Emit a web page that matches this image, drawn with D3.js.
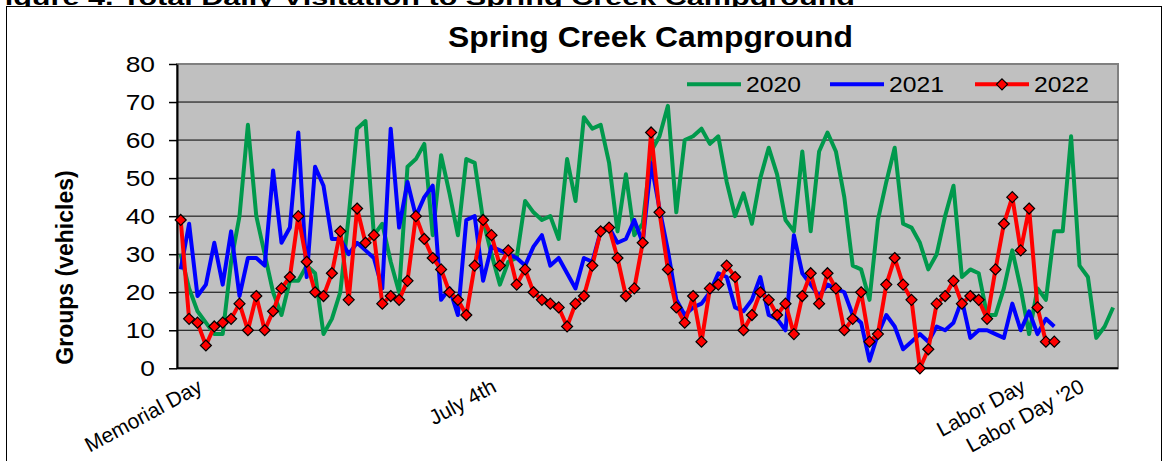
<!DOCTYPE html>
<html><head><meta charset="utf-8">
<script src="https://cdn.jsdelivr.net/npm/d3@7"></script>
<style>
body{margin:0;background:#fff;}
svg{display:block;}
text{font-family:Arial,"Liberation Sans",sans-serif;fill:#000;}
</style>
</head><body>
<svg id="c" width="1168" height="461"></svg>
<script>
// ---- data ----
const series2020 = [30,21,15,12,9,9,28,40,64,40,
  30,20,14,23,23,27,25,9,13,20,
  40,63,65,35,38,28,20,53,55,59,
  35,56,46,35,55,54,39,30,22,28,
  29,44,41,39,40,34,55,44,66,63,
  64,54,36,51,35,38,57,61,69,41,
  60,61,63,59,61,49,40,46,38,50,
  58,51,39,36,57,36,57,62,57,45,
  27,26,18,39,49,58,38,37,33,26,
  30,40,48,24,26,25,14,14,21,31,
  21,9,21,18,36,36,61,27,24,8,
  11,16];
const series2021 = [26,38,19,22,33,22,36,19,29,29,
  27,52,33,37,62,24,53,48,34,34,
  30,33,31,29,21,63,37,49,40,45,
  48,18,21,14,39,40,23,32,31,30,
  29,27,32,35,27,29,25,21,29,28,
  36,37,33,34,39,33,54,42,31,18,
  14,16,17,20,25,24,16,15,18,24,
  14,13,10,35,25,22,19,22,21,20,
  14,12,2,9,14,11,5,7,9,7,
  11,10,12,18,8,10,10,9,8,17,
  10,15,9,13,11];
const series2022 = [39,13,12,6,11,12,13,17,10,19,
  10,15,21,24,40,28,20,19,25,36,
  18,42,33,35,17,19,18,23,40,34,
  29,26,20,18,14,27,39,35,27,31,
  22,26,20,18,17,16,11,17,19,27,
  36,37,29,19,21,33,62,41,26,16,
  12,19,7,21,22,27,24,10,14,20,
  18,14,17,9,19,25,17,25,21,10,
  13,20,7,9,22,29,22,18,0,5,
  17,19,23,17,19,18,13,26,38,45,
  31,42,16,7,7];
const seriesNames = ["2020","2021","2022"];
const seriesColors = ["#00994C","#0000FF","#FF0000"];
const xTickDays = [0,35,98,105];
const xTickLabels = ["Memorial Day","July 4th","Labor Day","Labor Day '20"];
const yTickValues = [0,10,20,30,40,50,60,70,80];
const chartTitle = "Spring Creek Campground";
const yAxisTitle = "Groups (vehicles)";
const figureCaption = "Figure 4. Total Daily Visitation to Spring Creek Campground";

// ---- layout ----
const svg = d3.select("#c");
const P = {left:177, right:1118, top:64, bottom:368.3};
const x = d3.scaleLinear().domain([0, series2020.length-1]).range([180.7, 1113.1]);
const y = d3.scaleLinear().domain([0,80]).range([P.bottom, P.top]);

// caption (cut off at top)
svg.append("text").attr("x",-14).attr("y",5)
  .attr("font-size",22).attr("font-weight","bold")
  .attr("textLength",869).attr("lengthAdjust","spacingAndGlyphs")
  .text(figureCaption);

// outer frame
svg.append("rect").attr("x",6.5).attr("y",6.5).attr("width",1155).attr("height",480)
  .attr("fill","#fff").attr("stroke","#000").attr("stroke-width",1);

// plot area
svg.append("rect").attr("x",P.left).attr("y",P.top)
  .attr("width",P.right-P.left).attr("height",P.bottom-P.top)
  .attr("fill","#C0C0C0").attr("stroke","#808080").attr("stroke-width",2);

// gridlines
svg.append("g").selectAll("line").data(yTickValues.filter(v=>v>0 && v<80)).join("line")
  .attr("x1",P.left).attr("x2",P.right)
  .attr("y1",d=>y(d)).attr("y2",d=>y(d))
  .attr("stroke","#000").attr("stroke-width",1);

// y axis
const yAxis = svg.append("g").attr("transform",`translate(${P.left},0)`)
  .call(d3.axisLeft(y).tickValues(yTickValues).tickSize(8).tickPadding(14).tickSizeOuter(0));
yAxis.select(".domain").attr("stroke","#000").attr("stroke-width",2);
yAxis.selectAll(".tick line").attr("stroke","#000").attr("stroke-width",1.5);
yAxis.selectAll(".tick text").attr("font-size",22).attr("fill","#000")
  .attr("font-family","Arial,'Liberation Sans',sans-serif")
  .attr("textLength",d=>String(d).length*0.556*22*1.2).attr("lengthAdjust","spacingAndGlyphs");

// x axis line
svg.append("line").attr("x1",P.left).attr("x2",P.right)
  .attr("y1",P.bottom).attr("y2",P.bottom).attr("stroke","#000").attr("stroke-width",2);

// x tick labels
svg.append("g").selectAll("text").data(xTickDays).join("text")
  .attr("transform",d=>`translate(${x(d)+23},391) rotate(-28.5)`)
  .attr("text-anchor","end").attr("font-size",21)
  .text((d,i)=>xTickLabels[i]);

// series lines
const line = d3.line().x((d,i)=>x(i)).y(d=>y(d));
[series2020, series2021, series2022].forEach((s,k)=>{
  svg.append("path").datum(s).attr("d",line)
    .attr("fill","none").attr("stroke",seriesColors[k]).attr("stroke-width",4)
    .attr("stroke-linejoin","round").attr("stroke-linecap","butt");
});
const diamond = "M0,-5.5L5.5,0L0,5.5L-5.5,0Z";
svg.append("g").selectAll("path").data(series2022).join("path")
  .attr("d",diamond).attr("transform",(d,i)=>`translate(${x(i)},${y(d)})`)
  .attr("fill","#FF0000").attr("stroke","#000").attr("stroke-width",1.2);

// legend
const legX = [687, 830, 975];
const leg = svg.append("g");
seriesNames.forEach((n,k)=>{
  leg.append("line").attr("x1",legX[k]).attr("x2",legX[k]+54)
    .attr("y1",84.3).attr("y2",84.3).attr("stroke",seriesColors[k]).attr("stroke-width",4);
  if(k===2){
    leg.append("path").attr("d",diamond).attr("transform",`translate(${legX[k]+27},84.3)`)
      .attr("fill","#FF0000").attr("stroke","#000").attr("stroke-width",1.2);
  }
  leg.append("text").attr("x",legX[k]+59).attr("y",92).attr("font-size",22)
    .attr("textLength",55).attr("lengthAdjust","spacingAndGlyphs").text(n);
});

// title
svg.append("text").attr("x",448).attr("y",47).attr("font-size",30).attr("font-weight","bold")
  .attr("textLength",405).attr("lengthAdjust","spacingAndGlyphs").text(chartTitle);

// y axis title
svg.append("text").attr("transform","translate(73,267.5) rotate(-90)")
  .attr("text-anchor","middle").attr("font-size",23).attr("font-weight","bold")
  .text(yAxisTitle);
</script>
</body></html>
